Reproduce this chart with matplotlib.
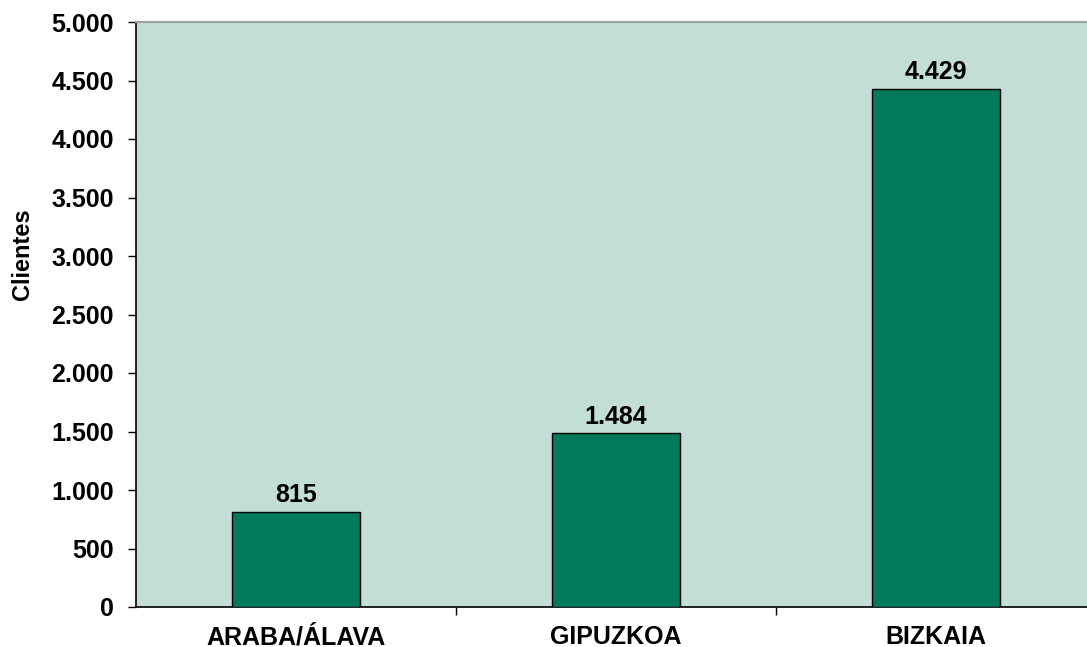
import matplotlib.pyplot as plt
from matplotlib.ticker import FuncFormatter

# Clientes por territorio
territorios = ['ARABA/ÁLAVA', 'GIPUZKOA', 'BIZKAIA']
clientes = [815, 1484, 4429]

plt.rcParams['font.family'] = ['Liberation Sans', 'DejaVu Sans']
plt.rcParams['font.weight'] = 'bold'

fig = plt.figure(figsize=(10.87, 6.47), dpi=100)
ax = fig.add_axes([136 / 1087, 1 - 607 / 647, 960 / 1087, 585 / 647])
ax.set_facecolor('#C2DED6')

x = list(range(len(territorios)))
bars = ax.bar(x, clientes, width=0.4, color='#007A5A', edgecolor='black', linewidth=1, zorder=3)

for b, v in zip(bars, clientes):
    ax.text(b.get_x() + b.get_width() / 2, v + 40, f'{v:,}'.replace(',', '.'),
            ha='center', va='bottom', fontsize=18, fontweight='bold')

ax.set_xlim(-0.5, len(territorios) - 0.5)
ax.set_ylim(0, 5000)
ax.set_yticks(range(0, 5001, 500))
ax.yaxis.set_major_formatter(FuncFormatter(lambda v, p: f'{int(v):,}'.replace(',', '.')))
ax.set_xticks(x)
ax.set_xticklabels(territorios)
ax.set_xticks([i + 0.5 for i in x[:-1]], minor=True)
ax.tick_params(axis='x', which='major', length=0, pad=13, labelsize=18)
ax.tick_params(axis='x', which='minor', length=6, direction='out', width=1)
ax.tick_params(axis='y', length=6, direction='out', width=1, labelsize=18, pad=10)

ax.spines['top'].set_color('#A0A0A0')
ax.spines['top'].set_linewidth(1.5)
ax.spines['right'].set_visible(False)
ax.spines['left'].set_linewidth(1.2)
ax.spines['bottom'].set_linewidth(1.2)

# y-axis title sits above the axes centre in the original
fig.text(23 / 1087, 1 - 254 / 647, 'Clientes', rotation=90, ha='center', va='center',
         fontsize=17, fontweight='bold')

fig.savefig('out.png', dpi=100)
